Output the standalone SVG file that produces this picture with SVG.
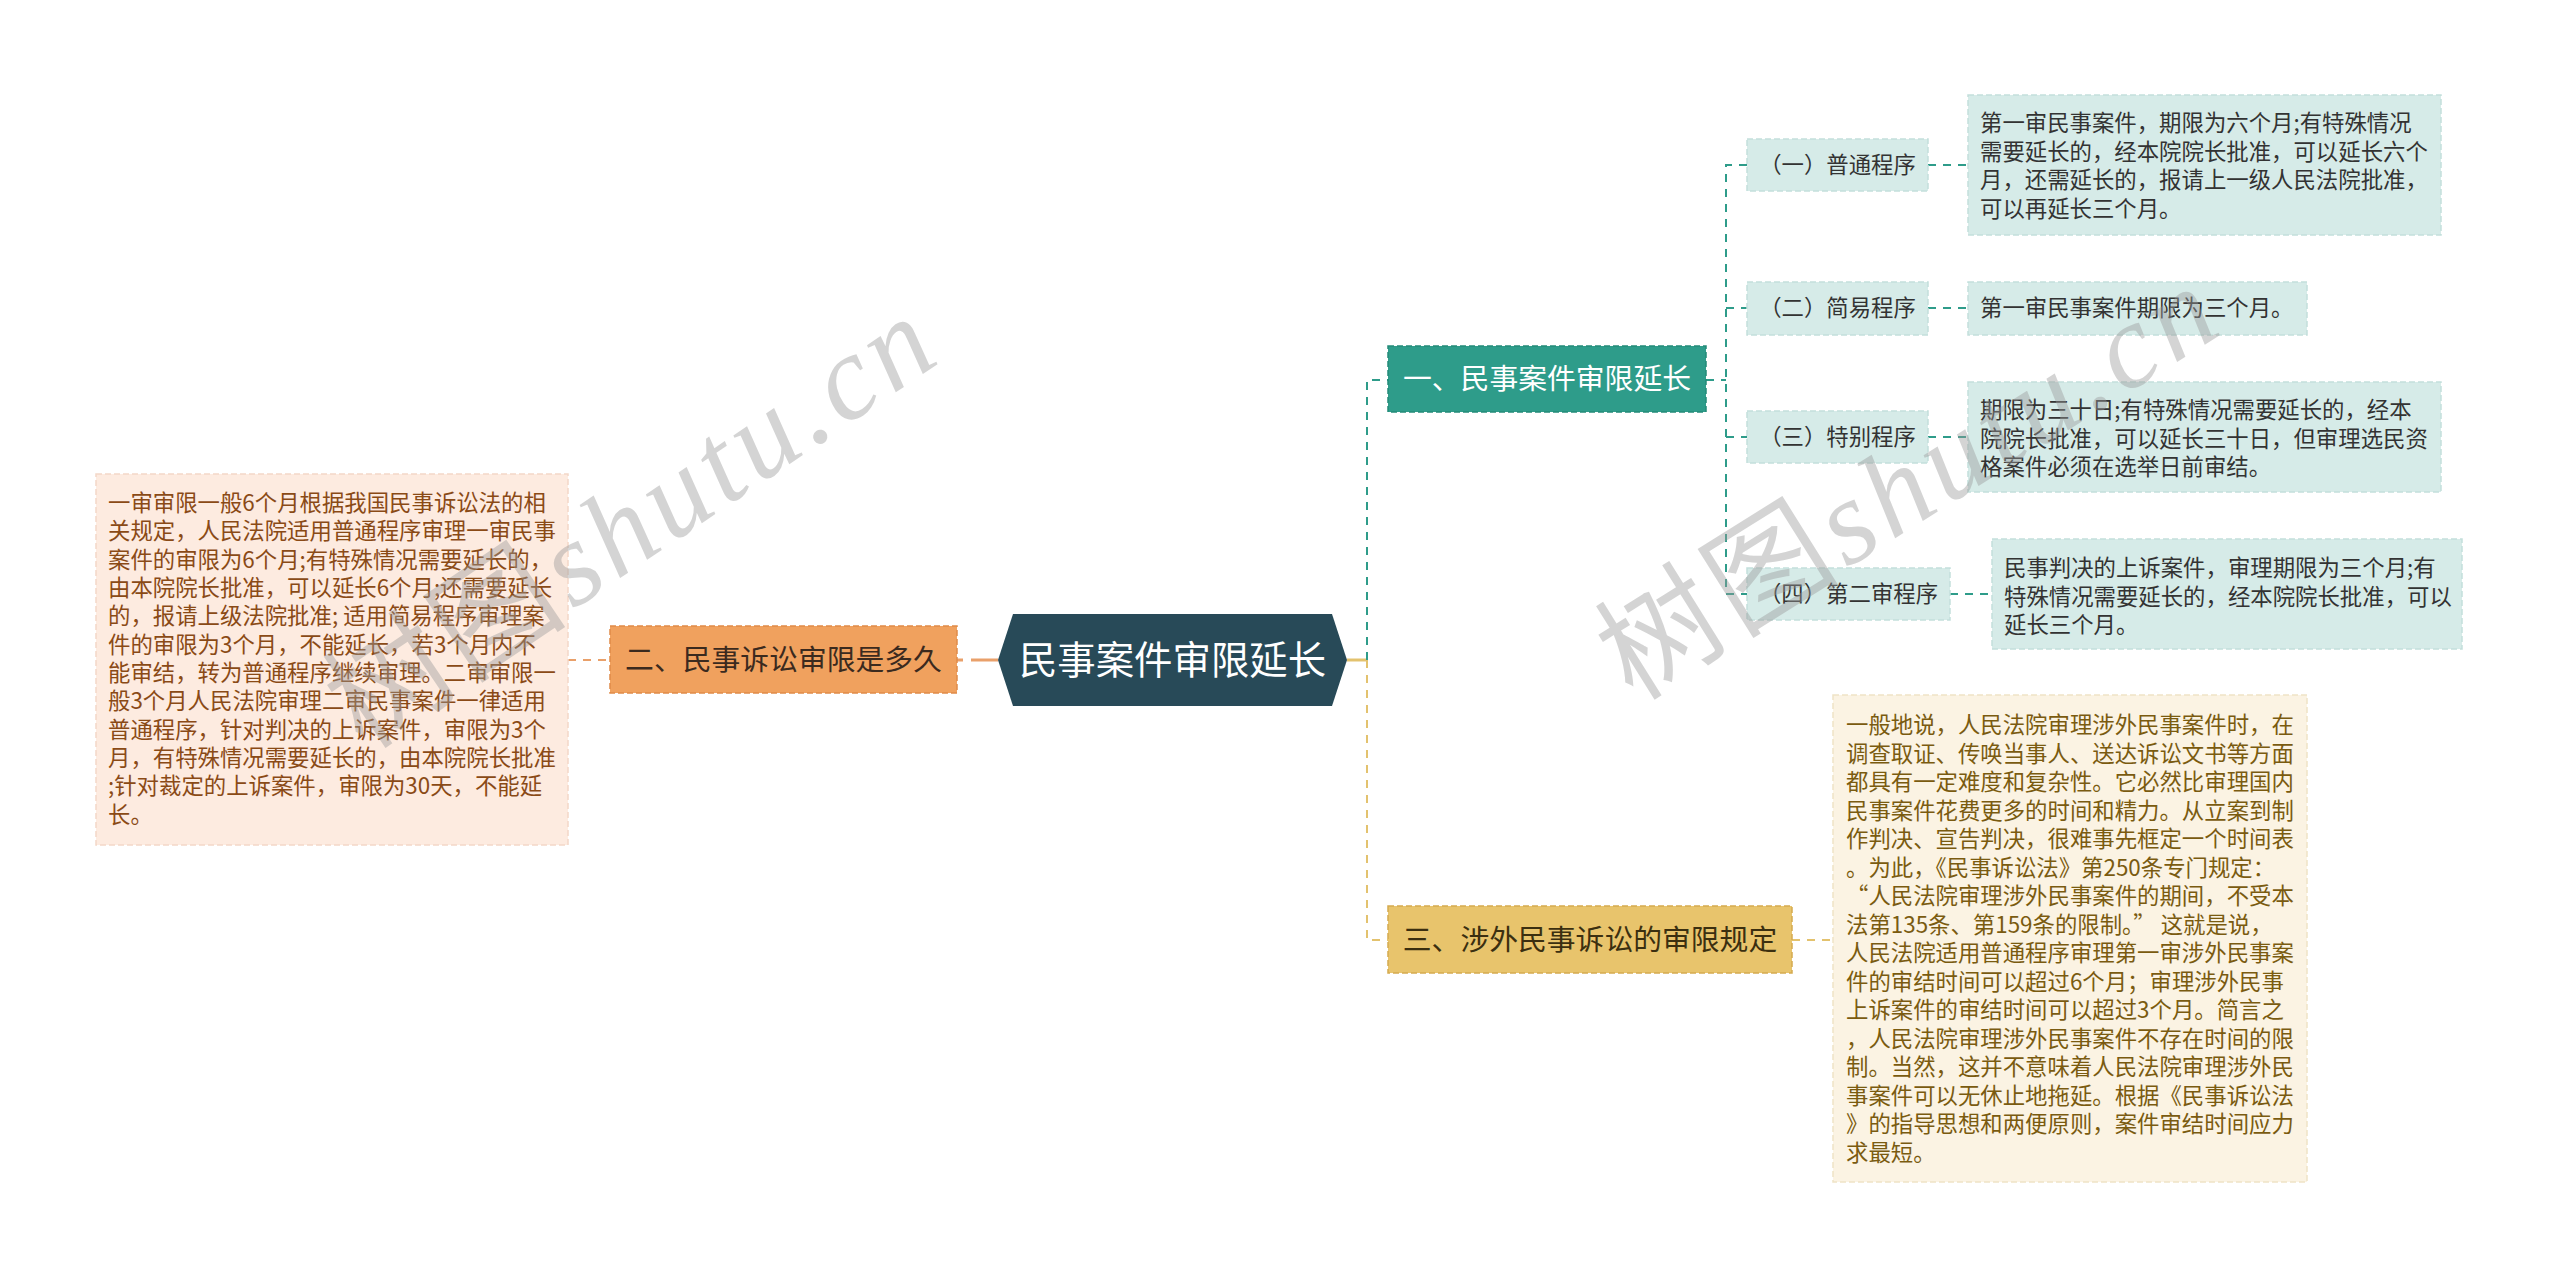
<svg xmlns="http://www.w3.org/2000/svg" width="2560" height="1279" viewBox="0 0 2560 1279">
<style>
text{font-family:"Noto Sans CJK SC","Noto Sans",sans-serif}
.body{font-size:22.4px}
.teal-box{fill:#d6ebe8;stroke:#c3dfdb;stroke-width:1.5;stroke-dasharray:6 3}
.teal-txt{fill:#333333}
.peach-box{fill:#fdebe0;stroke:#f3d8c8;stroke-width:1.5;stroke-dasharray:6 3}
.peach-txt{fill:#8a4a16}
.cream-box{fill:#fbf3e3;stroke:#efe3c6;stroke-width:1.5;stroke-dasharray:6 3}
.cream-txt{fill:#7a5b10}
.main{font-size:28.8px}
.c-teal{fill:none;stroke:#2e9c8a;stroke-width:2;stroke-dasharray:8 7}
.c-orange{fill:none;stroke:#e9a06a;stroke-width:2;stroke-dasharray:8 7}
.c-yellow{fill:none;stroke:#e3c26e;stroke-width:2;stroke-dasharray:8 7}
.wm{font-size:120px;fill:#9a9a9a;opacity:0.42;letter-spacing:6px}
</style>
<rect width="2560" height="1279" fill="#ffffff"/>
<g id="connectors">
<line x1="957" y1="660" x2="998" y2="660" stroke="#e9a06a" stroke-width="3" stroke-dasharray="6 8 30"/>
<line x1="568" y1="660" x2="610" y2="660" class="c-orange"/>
<line x1="1347" y1="660" x2="1367" y2="660" stroke="#e3c26e" stroke-width="3"/>
<path d="M1367 660 V380 H1388" class="c-teal"/>
<path d="M1367 660 V940 H1388" class="c-yellow"/>
<path d="M1706 380 H1726" class="c-teal"/>
<path d="M1747 165 H1726 V594 H1747" class="c-teal"/>
<path d="M1726 308 H1747" class="c-teal"/>
<path d="M1726 437 H1747" class="c-teal"/>
<line x1="1928" y1="165" x2="1968" y2="165" class="c-teal"/>
<line x1="1928" y1="308" x2="1968" y2="308" class="c-teal"/>
<line x1="1928" y1="437" x2="1968" y2="437" class="c-teal"/>
<line x1="1950" y1="594" x2="1992" y2="594" class="c-teal"/>
<line x1="1792" y1="940" x2="1833" y2="940" class="c-yellow"/>
</g>
<g id="root">
<polygon points="998,660 1013,614 1332,614 1347,660 1332,706 1013,706" fill="#284a58"/>
<text x="1172.5" y="674" text-anchor="middle" font-size="38.4" fill="#ffffff">民事案件审限延长</text>
</g>
<g id="n2">
<rect x="610" y="626" width="347" height="67" fill="#f0a15e" stroke="#e08b48" stroke-width="1.5" stroke-dasharray="6 3"/>
<text x="783.5" y="670" text-anchor="middle" class="main" fill="#3b2a1e">二、民事诉讼审限是多久</text>
</g>
<g id="n2-leaf">
<rect x="96" y="474" width="472" height="371" class="peach-box"/>
<text class="body peach-txt" x="108">
<tspan x="108" y="511">一审审限一般6个月根据我国民事诉讼法的相</tspan>
<tspan x="108" y="539.3">关规定，人民法院适用普通程序审理一审民事</tspan>
<tspan x="108" y="567.7">案件的审限为6个月;有特殊情况需要延长的，</tspan>
<tspan x="108" y="596">由本院院长批准，可以延长6个月;还需要延长</tspan>
<tspan x="108" y="624.3">的，报请上级法院批准; 适用简易程序审理案</tspan>
<tspan x="108" y="652.7">件的审限为3个月，不能延长，若3个月内不</tspan>
<tspan x="108" y="681">能审结，转为普通程序继续审理。二审审限一</tspan>
<tspan x="108" y="709.3">般3个月人民法院审理二审民事案件一律适用</tspan>
<tspan x="108" y="737.7">普通程序，针对判决的上诉案件，审限为3个</tspan>
<tspan x="108" y="766">月，有特殊情况需要延长的，由本院院长批准</tspan>
<tspan x="108" y="794.3">;针对裁定的上诉案件，审限为30天，不能延</tspan>
<tspan x="108" y="822.7">长。</tspan>
</text>
</g>
<g id="n1">
<rect x="1388" y="346" width="318" height="66" fill="#2e9c8a" stroke="#238a78" stroke-width="1.5" stroke-dasharray="6 3"/>
<text x="1547" y="389" text-anchor="middle" class="main" fill="#ffffff">一、民事案件审限延长</text>
</g>
<g id="n1-1">
<rect x="1747" y="139" width="181" height="52" class="teal-box"/>
<text x="1837.5" y="173" text-anchor="middle" class="body teal-txt">（一）普通程序</text>
</g>
<g id="n1-1-leaf">
<rect x="1968" y="95" width="473" height="140" class="teal-box"/>
<text class="body teal-txt">
<tspan x="1980" y="131">第一审民事案件，期限为六个月;有特殊情况</tspan>
<tspan x="1980" y="159.5">需要延长的，经本院院长批准，可以延长六个</tspan>
<tspan x="1980" y="188">月，还需延长的，报请上一级人民法院批准，</tspan>
<tspan x="1980" y="216.5">可以再延长三个月。</tspan>
</text>
</g>
<g id="n1-2">
<rect x="1747" y="282" width="181" height="53" class="teal-box"/>
<text x="1837.5" y="316" text-anchor="middle" class="body teal-txt">（二）简易程序</text>
</g>
<g id="n1-2-leaf">
<rect x="1968" y="282" width="339" height="53" class="teal-box"/>
<text x="1980" y="316" class="body teal-txt">第一审民事案件期限为三个月。</text>
</g>
<g id="n1-3">
<rect x="1747" y="411" width="181" height="52" class="teal-box"/>
<text x="1837.5" y="445" text-anchor="middle" class="body teal-txt">（三）特别程序</text>
</g>
<g id="n1-3-leaf">
<rect x="1968" y="382" width="473" height="110" class="teal-box"/>
<text class="body teal-txt">
<tspan x="1980" y="418">期限为三十日;有特殊情况需要延长的，经本</tspan>
<tspan x="1980" y="446.5">院院长批准，可以延长三十日，但审理选民资</tspan>
<tspan x="1980" y="475">格案件必须在选举日前审结。</tspan>
</text>
</g>
<g id="n1-4">
<rect x="1747" y="568" width="203" height="52" class="teal-box"/>
<text x="1848.5" y="602" text-anchor="middle" class="body teal-txt">（四）第二审程序</text>
</g>
<g id="n1-4-leaf">
<rect x="1992" y="539" width="470" height="110" class="teal-box"/>
<text class="body teal-txt">
<tspan x="2004" y="576">民事判决的上诉案件，审理期限为三个月;有</tspan>
<tspan x="2004" y="604.5">特殊情况需要延长的，经本院院长批准，可以</tspan>
<tspan x="2004" y="633">延长三个月。</tspan>
</text>
</g>
<g id="n3">
<rect x="1388" y="906" width="404" height="67" fill="#e8c46c" stroke="#d5ab4f" stroke-width="1.5" stroke-dasharray="6 3"/>
<text x="1590" y="950" text-anchor="middle" class="main" fill="#3b2f10">三、涉外民事诉讼的审限规定</text>
</g>
<g id="n3-leaf">
<rect x="1833" y="695" width="474" height="487" class="cream-box"/>
<text class="body cream-txt">
<tspan x="1846" y="733">一般地说，人民法院审理涉外民事案件时，在</tspan>
<tspan x="1846" y="761.5">调查取证、传唤当事人、送达诉讼文书等方面</tspan>
<tspan x="1846" y="790">都具有一定难度和复杂性。它必然比审理国内</tspan>
<tspan x="1846" y="818.6">民事案件花费更多的时间和精力。从立案到制</tspan>
<tspan x="1846" y="847.1">作判决、宣告判决，很难事先框定一个时间表</tspan>
<tspan x="1846" y="875.6">。为此，《民事诉讼法》第250条专门规定：</tspan>
<tspan x="1846" y="904.2">“人民法院审理涉外民事案件的期间，不受本</tspan>
<tspan x="1846" y="932.7">法第135条、第159条的限制。” 这就是说，</tspan>
<tspan x="1846" y="961.2">人民法院适用普通程序审理第一审涉外民事案</tspan>
<tspan x="1846" y="989.8">件的审结时间可以超过6个月；审理涉外民事</tspan>
<tspan x="1846" y="1018.3">上诉案件的审结时间可以超过3个月。简言之</tspan>
<tspan x="1846" y="1046.8">，人民法院审理涉外民事案件不存在时间的限</tspan>
<tspan x="1846" y="1075.4">制。当然，这并不意味着人民法院审理涉外民</tspan>
<tspan x="1846" y="1103.9">事案件可以无休止地拖延。根据《民事诉讼法</tspan>
<tspan x="1846" y="1132.4">》的指导思想和两便原则，案件审结时间应力</tspan>
<tspan x="1846" y="1161">求最短。</tspan>
</text>
</g>
<g id="watermarks">
<text class="wm" transform="translate(364,751) rotate(-34)">树图<tspan font-family="'Liberation Serif',serif" font-style="italic">shutu.cn</tspan></text>
<text class="wm" transform="translate(1633,702) rotate(-32)">树图<tspan font-family="'Liberation Serif',serif" font-style="italic">shutu.cn</tspan></text>
</g>
</svg>
